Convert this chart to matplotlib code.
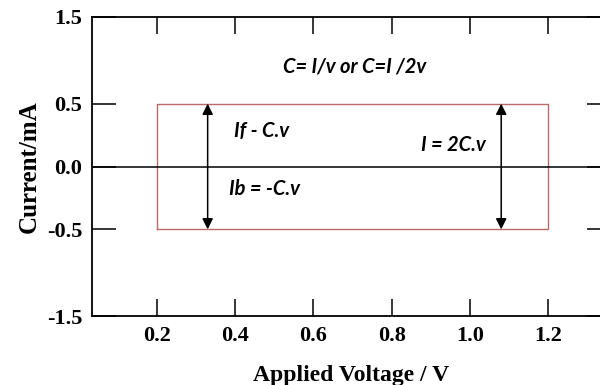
import numpy as np
import matplotlib
matplotlib.use("Agg")
import matplotlib.pyplot as plt

# chart content
x_ticks = [0.2, 0.4, 0.6, 0.8, 1.0, 1.2]
y_ticks = [-1.5, -0.5, 0.0, 0.5, 1.5]
box_x = [0.2, 1.2]
box_y = [-0.5, 0.5]
arrow_x = [0.33, 1.08]
notes = ["C= I/v or C=I /2v", "If - C.v", "Ib = -C.v", "I = 2C.v"]
note_x = [0.706, 0.469, 0.474, 0.957]
note_y = [0.93, 0.28, -0.176, 0.168]

# the y axis of the original is squeezed outside +-0.5
k = 0.69
def fwd(y):
    y = np.asarray(y, dtype=float)
    a = np.abs(y)
    return np.where(a <= 0.5, y, np.sign(y) * (0.5 + (a - 0.5) * k))

def inv(u):
    u = np.asarray(u, dtype=float)
    a = np.abs(u)
    return np.where(a <= 0.5, u, np.sign(u) * (0.5 + (a - 0.5) / k))

serif = "Liberation Serif"

fig = plt.figure(figsize=(6, 3.85), dpi=100)
ax = fig.add_axes([0.153, 0.179, 0.865, 0.777])
ax.set_yscale("function", functions=(fwd, inv))
ax.set_xlim(0.034, 1.36)
ax.set_ylim(-1.5, 1.5)

# box and zero line
bx = [box_x[0], box_x[1], box_x[1], box_x[0], box_x[0]]
by = [box_y[0], box_y[0], box_y[1], box_y[1], box_y[0]]
ax.plot(bx, by, color="#b86a6a", lw=1.0)
ax.axhline(0, color="black", lw=1.1)

for xa in arrow_x:
    ax.annotate("", xy=(xa, box_y[1]), xytext=(xa, box_y[0]),
                arrowprops=dict(arrowstyle="<|-|>", color="black", lw=1.1,
                                mutation_scale=16, shrinkA=0, shrinkB=0))

for t, xn, yn in zip(notes, note_x, note_y):
    ax.text(xn, yn, t, ha="center", va="center", fontsize=14.5,
            family="Lato", style="italic", weight="bold")

ax.set_xticks(x_ticks)
ax.set_xticklabels(["%.1f" % v for v in x_ticks])
ax.set_yticks(y_ticks)
ax.set_yticklabels(["%.1f" % v for v in y_ticks])
ax.tick_params(direction="in", top=True, right=True, width=1.1,
               labelsize=16, pad=7)
ax.tick_params(axis="x", length=12)
ax.tick_params(axis="y", length=17)
for lab in ax.get_xticklabels() + ax.get_yticklabels():
    lab.set_family(serif)
    lab.set_weight("bold")
for s in ax.spines.values():
    s.set_linewidth(1.3)

ax.set_xlabel("Applied Voltage / V", family=serif, weight="bold",
              fontsize=17, labelpad=14)
ax.set_ylabel("Current/mA", family=serif, weight="bold", fontsize=18,
              labelpad=4)

fig.savefig("out.png", dpi=100)
